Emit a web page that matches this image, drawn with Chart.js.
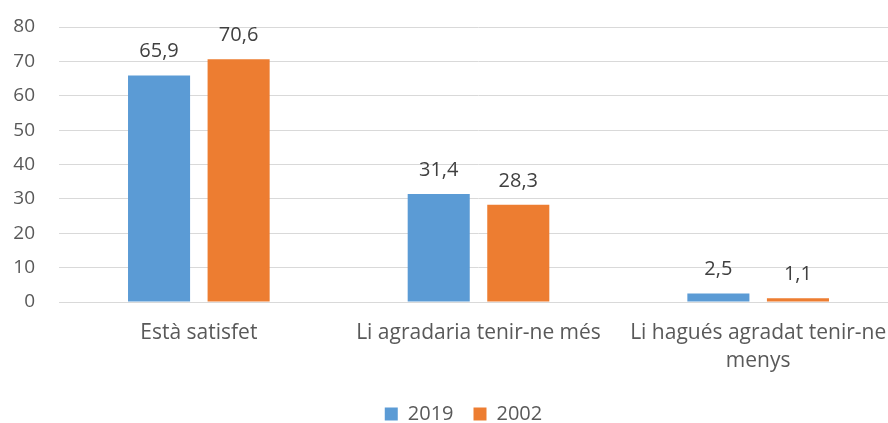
<!DOCTYPE html>
<html>
<head>
<meta charset="utf-8">
<script src="https://cdn.jsdelivr.net/npm/chart.js@4"></script>
<style>
  html,body{margin:0;padding:0;background:#fff;overflow:hidden;}
  #wrap{width:927px;height:423px;position:relative;}
</style>
</head>
<body>
<div id="wrap"><canvas id="chart"></canvas></div>
<script>
const categories = ["Està satisfet", "Li agradaria tenir-ne més", ["Li hagués agradat tenir-ne", "menys"]];
const seriesNames = ["2019", "2002"];
const values2019 = [65.9, 31.4, 2.5];
const values2002 = [70.6, 28.3, 1.1];
const yTicks = [0, 10, 20, 30, 40, 50, 60, 70, 80];

const FONT = "'Open Sans', sans-serif";
const TEXT = "#595959";

// draw value labels above each bar, comma decimal
const valueLabels = {
    id:"valueLabels",
    afterDatasetsDraw(chart){
        const ctx = chart.ctx;
        ctx.save();
        ctx.font = "20px " + FONT;
        ctx.fillStyle = "#404040";
        ctx.textAlign = "center";
        ctx.textBaseline = "alphabetic";
        chart.data.datasets.forEach((ds,i)=>{
            chart.getDatasetMeta(i).data.forEach((bar,j)=>{
                const txt = ds.data[j].toFixed(1).replace(".", ",");
                ctx.fillText(txt, bar.x, bar.y - 18);
            });
        });
        ctx.restore();
    }
};

// canvas is wider than the window: plot runs past the right edge like the original
new Chart(document.getElementById("chart"),{
    type:"bar",
    data:{
        labels:categories,
        datasets:[
            { label:seriesNames[0], data:values2019, backgroundColor:"#5B9BD5" },
            { label:seriesNames[1], data:values2002, backgroundColor:"#ED7D31" }
        ]
    },
    options:{
        responsive:true,
        maintainAspectRatio:false,
        animation:false,
        categoryPercentage:0.569,
        barPercentage:0.78,
        layout:{ padding:{ left:0, right:0, top:27, bottom:-11 } },
        scales:{
            x:{
                grid:{ display:false, drawTicks:false },
                border:{ color:"#D9D9D9", width:1 },
                ticks:{ color:TEXT, font:{ family:FONT, size:21, lineHeight:1.333 }, padding:17, maxRotation:0 },
                afterFit(axis){ axis.paddingLeft = 0; axis.paddingRight = 29; axis.height = 82; }
            },
            y:{
                min:0, max:80,
                afterBuildTicks(axis){ axis.ticks = yTicks.map(v=>({ value:v })); },
                grid:{ color:"#D9D9D9", drawTicks:false },
                border:{ display:false },
                ticks:{ color:TEXT, font:{ family:FONT, size:19 }, padding:24 },
                afterFit(axis){ axis.width = 59; axis.paddingTop = 0; axis.paddingBottom = 0; }
            }
        },
        plugins:{
            legend:{
                position:"bottom",
                labels:{ color:TEXT, font:{ family:FONT, size:20 }, boxWidth:13, boxHeight:13, padding:20 }
            },
            tooltip:{ enabled:false }
        }
    },
    plugins:[valueLabels]
});
</script>
</body>
</html>
